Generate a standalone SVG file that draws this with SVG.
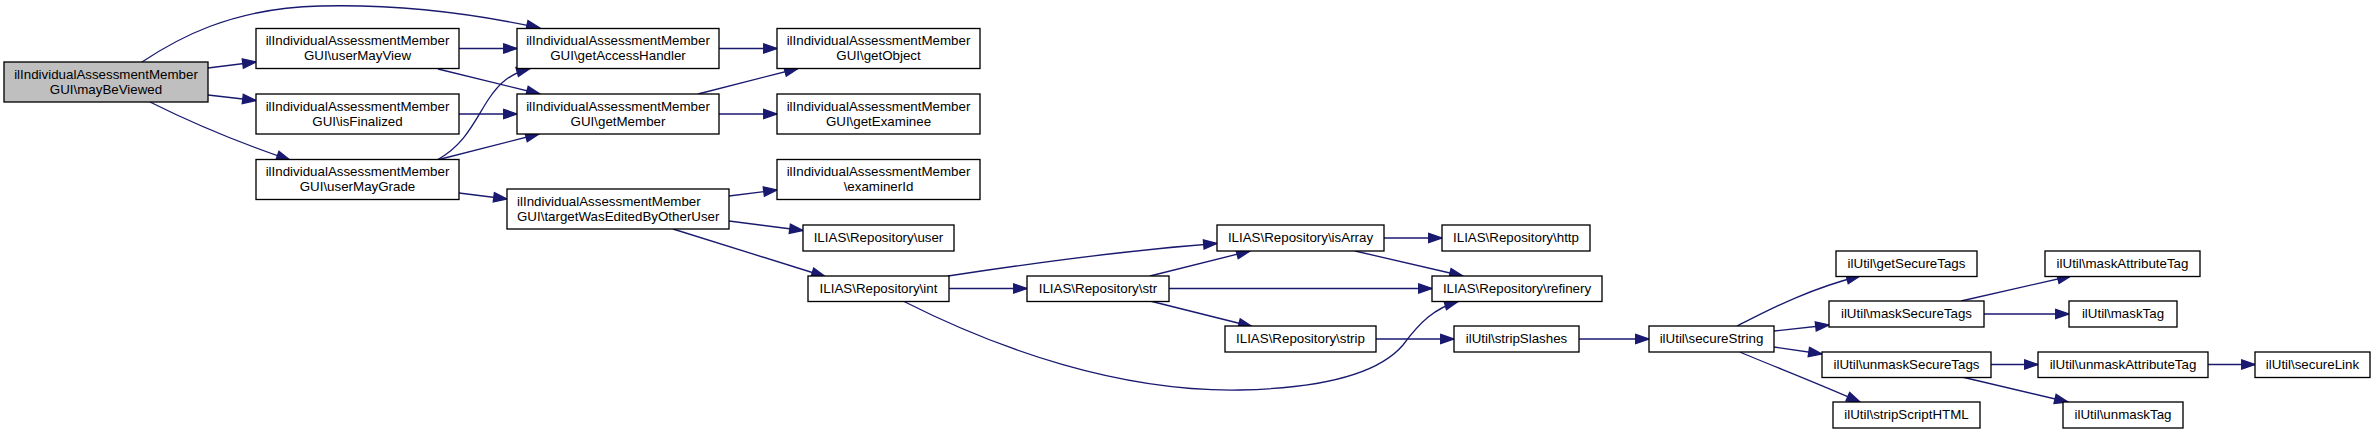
<svg xmlns="http://www.w3.org/2000/svg" width="2376" height="434" viewBox="0 0 2376 434">
<style>
.n rect{fill:#ffffff;stroke:#000000;stroke-width:1.33}
.n.root rect{fill:#bfbfbf}
.n text{font-family:"Liberation Sans",Arial,Helvetica,sans-serif;font-size:13.33px;fill:#000000;text-anchor:middle}
.n text.l{text-anchor:start}
#edges path{fill:none;stroke:#191970;stroke-width:1.33;marker-end:url(#arr)}
</style>
<defs>
<marker id="arr" markerUnits="userSpaceOnUse" markerWidth="16" markerHeight="12" refX="13.3" refY="4.67" orient="auto" overflow="visible">
<path d="M0,0 L13.3,4.67 L0,9.33 Z" fill="#191970" stroke="#191970" stroke-width="1.33"/>
</marker>
</defs>
<rect width="2376" height="434" fill="#ffffff"/>
<g id="edges">
<path d="M142,62 C175,40 230,8 320,6 C400,4 480,15 540,28"/>
<path d="M208,68 L256,62"/>
<path d="M208,95 L256,100.5"/>
<path d="M150,102 C190,122 240,143 290,160"/>
<path d="M459,48.5 L517,48.5"/>
<path d="M438,69 L540,94"/>
<path d="M459,114 L517,114"/>
<path d="M437,160 C465,145 475,120 488,100 C500,82 510,74 530,68.5"/>
<path d="M437,160 L539,134"/>
<path d="M459,193 L507,199"/>
<path d="M719,48.5 L777,48.5"/>
<path d="M698,94 L798,68.5"/>
<path d="M719,114 L777,114"/>
<path d="M729,196 L777,190"/>
<path d="M729,221 L803,230.5"/>
<path d="M673,229 L825,276.5"/>
<path d="M948,276 C1040,262 1130,250 1217,243.5"/>
<path d="M949,288.5 L1027,288.5"/>
<path d="M903,301 C1000,350 1120,392 1240,390 C1330,388 1380,372 1403,345 C1420,322 1435,308 1458,301.5"/>
<path d="M1150,276 L1250,251"/>
<path d="M1169,288.5 L1432,288.5"/>
<path d="M1150,301 L1252,326.5"/>
<path d="M1384,238 L1442,238"/>
<path d="M1355,251 L1463,276"/>
<path d="M1376,339 L1454,339"/>
<path d="M1579,339 L1649,339"/>
<path d="M1737,326 C1765,312 1805,290 1860,276"/>
<path d="M1774,331 L1829,325"/>
<path d="M1774,347 L1822,354"/>
<path d="M1740,352 C1770,365 1810,380 1860,402"/>
<path d="M1961,301 L2071,276"/>
<path d="M1984,314 L2069,314"/>
<path d="M1991,364.5 L2038,364.5"/>
<path d="M1962,377 L2068,402"/>
<path d="M2208,364.5 L2255,364.5"/>
</g>
<g id="n1" class="n root"><rect x="4" y="62" width="204" height="40"/><text x="106" y="78.5">ilIndividualAssessmentMember</text><text x="106" y="93.5">GUI\mayBeViewed</text></g>
<g id="n2" class="n"><rect x="256" y="28.5" width="203" height="40"/><text x="357.5" y="45">ilIndividualAssessmentMember</text><text x="357.5" y="60">GUI\userMayView</text></g>
<g id="n3" class="n"><rect x="256" y="94" width="203" height="40"/><text x="357.5" y="110.5">ilIndividualAssessmentMember</text><text x="357.5" y="125.5">GUI\isFinalized</text></g>
<g id="n4" class="n"><rect x="256" y="159.5" width="203" height="40"/><text x="357.5" y="176">ilIndividualAssessmentMember</text><text x="357.5" y="191">GUI\userMayGrade</text></g>
<g id="n5" class="n"><rect x="517" y="28.5" width="202" height="40"/><text x="618" y="45">ilIndividualAssessmentMember</text><text x="618" y="60">GUI\getAccessHandler</text></g>
<g id="n6" class="n"><rect x="517" y="94" width="202" height="40"/><text x="618" y="110.5">ilIndividualAssessmentMember</text><text x="618" y="125.5">GUI\getMember</text></g>
<g id="n7" class="n"><rect x="777" y="28.5" width="203" height="40"/><text x="878.5" y="45">ilIndividualAssessmentMember</text><text x="878.5" y="60">GUI\getObject</text></g>
<g id="n8" class="n"><rect x="777" y="94" width="203" height="40"/><text x="878.5" y="110.5">ilIndividualAssessmentMember</text><text x="878.5" y="125.5">GUI\getExaminee</text></g>
<g id="n9" class="n"><rect x="777" y="159.5" width="203" height="40"/><text x="878.5" y="176">ilIndividualAssessmentMember</text><text x="878.5" y="191">\examinerId</text></g>
<g id="n10" class="n"><rect x="507" y="189" width="222" height="40"/><text class="l" x="517" y="205.5">ilIndividualAssessmentMember</text><text class="l" x="517" y="220.5">GUI\targetWasEditedByOtherUser</text></g>
<g id="n11" class="n"><rect x="803" y="225" width="151" height="26"/><text x="878.5" y="242">ILIAS\Repository\user</text></g>
<g id="n12" class="n"><rect x="808" y="276" width="141" height="25.5"/><text x="878.5" y="293">ILIAS\Repository\int</text></g>
<g id="n13" class="n"><rect x="1027" y="276" width="142" height="25.5"/><text x="1098" y="293">ILIAS\Repository\str</text></g>
<g id="n14" class="n"><rect x="1217" y="225" width="167" height="26"/><text x="1300.5" y="242">ILIAS\Repository\isArray</text></g>
<g id="n15" class="n"><rect x="1442" y="225" width="148" height="26"/><text x="1516" y="242">ILIAS\Repository\http</text></g>
<g id="n16" class="n"><rect x="1432" y="276" width="170" height="25.5"/><text x="1517" y="293">ILIAS\Repository\refinery</text></g>
<g id="n17" class="n"><rect x="1225" y="326" width="151" height="26"/><text x="1300.5" y="343">ILIAS\Repository\strip</text></g>
<g id="n18" class="n"><rect x="1454" y="326" width="125" height="26"/><text x="1516.5" y="343">ilUtil\stripSlashes</text></g>
<g id="n19" class="n"><rect x="1649" y="326" width="125" height="26"/><text x="1711.5" y="343">ilUtil\secureString</text></g>
<g id="n20" class="n"><rect x="1836" y="251" width="141" height="25.5"/><text x="1906.5" y="268">ilUtil\getSecureTags</text></g>
<g id="n21" class="n"><rect x="1829" y="301" width="155" height="26"/><text x="1906.5" y="318">ilUtil\maskSecureTags</text></g>
<g id="n22" class="n"><rect x="1822" y="352" width="169" height="25.5"/><text x="1906.5" y="369">ilUtil\unmaskSecureTags</text></g>
<g id="n23" class="n"><rect x="1833" y="402" width="147" height="26"/><text x="1906.5" y="419">ilUtil\stripScriptHTML</text></g>
<g id="n24" class="n"><rect x="2045" y="251" width="155" height="25.5"/><text x="2122.5" y="268">ilUtil\maskAttributeTag</text></g>
<g id="n25" class="n"><rect x="2069" y="301" width="108" height="26"/><text x="2123" y="318">ilUtil\maskTag</text></g>
<g id="n26" class="n"><rect x="2038" y="352" width="170" height="25.5"/><text x="2123" y="369">ilUtil\unmaskAttributeTag</text></g>
<g id="n27" class="n"><rect x="2063" y="402" width="120" height="26"/><text x="2123" y="419">ilUtil\unmaskTag</text></g>
<g id="n28" class="n"><rect x="2255" y="352" width="115" height="25.5"/><text x="2312.5" y="369">ilUtil\secureLink</text></g>
</svg>
